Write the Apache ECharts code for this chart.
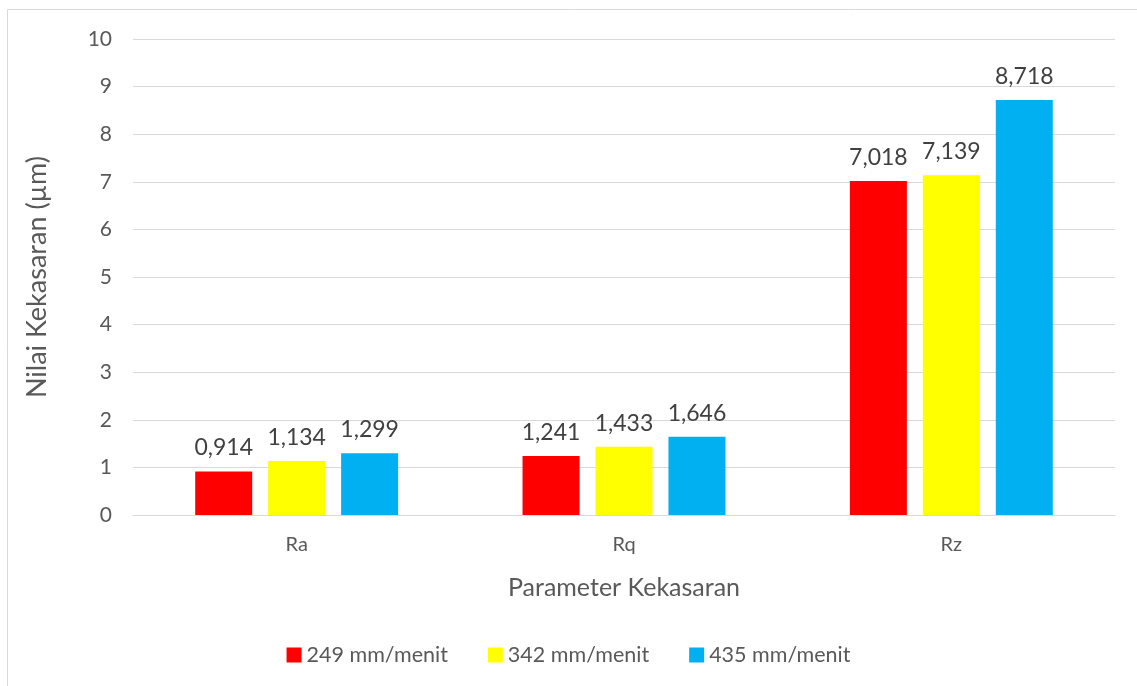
<!DOCTYPE html>
<html>
<head>
<meta charset="utf-8">
<script src="https://cdn.jsdelivr.net/npm/echarts@6/dist/echarts.min.js"></script>
<style>
html, body { margin: 0; padding: 0; background: #fff; }
#main { width: 1137px; height: 686px; }
</style>
</head>
<body>
<div id="main"></div>
<script>
// data
var categories = ['Ra', 'Rq', 'Rz'];
var seriesNames = ['249 mm/menit', '342 mm/menit', '435 mm/menit'];
var v249 = [0.914, 1.241, 7.018];
var v342 = [1.134, 1.433, 7.139];
var v435 = [1.299, 1.646, 8.718];
var colors = ['#ff0000', '#ffff00', '#00b0f0'];

var fontName = 'Lato, "Open Sans", sans-serif';

function bar(name, data, color) {
    return {
        name: name,
        type: 'bar',
        data: data,
        barWidth: 57,
        barGap: '28%',
        itemStyle: { color: color },
        label: {
            show: true,
            position: 'top',
            distance: 12,
            fontFamily: fontName,
            fontSize: 23,
            color: '#404040',
            formatter: function (p) {
                return p.value.toFixed(3).replace('.', ',');
            }
        }
    };
}

var myChart = echarts.init(document.getElementById('main'));
myChart.setOption({
    animation: false,
    color: colors,
    graphic: [{
        type: 'rect',
        shape: { x: 7.5, y: 9.5, width: 1140, height: 700 },
        style: { fill: 'none', stroke: '#d9d9d9', lineWidth: 1 },
        silent: true
    }],
    legend: {
        bottom: 15,
        left: 'center',
        itemWidth: 15,
        itemHeight: 15,
        itemGap: 40,
        icon: 'rect',
        textStyle: { fontFamily: fontName, fontSize: 21.5, color: '#595959' },
        data: seriesNames
    },
    grid: { left: 133, right: 22, top: 39, bottom: 171, containLabel: false },
    xAxis: {
        type: 'category',
        data: categories,
        name: 'Parameter Kekasaran',
        nameLocation: 'middle',
        nameGap: 60,
        nameTextStyle: { fontFamily: fontName, fontSize: 25, color: '#595959' },
        axisLine: { lineStyle: { color: '#d9d9d9' } },
        axisTick: { show: false },
        axisLabel: { fontFamily: fontName, fontSize: 20, color: '#595959', margin: 20 }
    },
    yAxis: {
        type: 'value',
        min: 0,
        max: 10,
        interval: 1,
        name: 'Nilai Kekasaran (\u00b5m)',
        nameLocation: 'middle',
        nameGap: 82,
        nameTextStyle: { fontFamily: fontName, fontSize: 27, color: '#595959' },
        axisLine: { show: false },
        axisTick: { show: false },
        axisLabel: { fontFamily: fontName, fontSize: 21, color: '#595959', margin: 21 },
        splitLine: { lineStyle: { color: '#d9d9d9', width: 1 } }
    },
    series: [
        bar(seriesNames[0], v249, colors[0]),
        bar(seriesNames[1], v342, colors[1]),
        bar(seriesNames[2], v435, colors[2])
    ]
});
</script>
</body>
</html>
